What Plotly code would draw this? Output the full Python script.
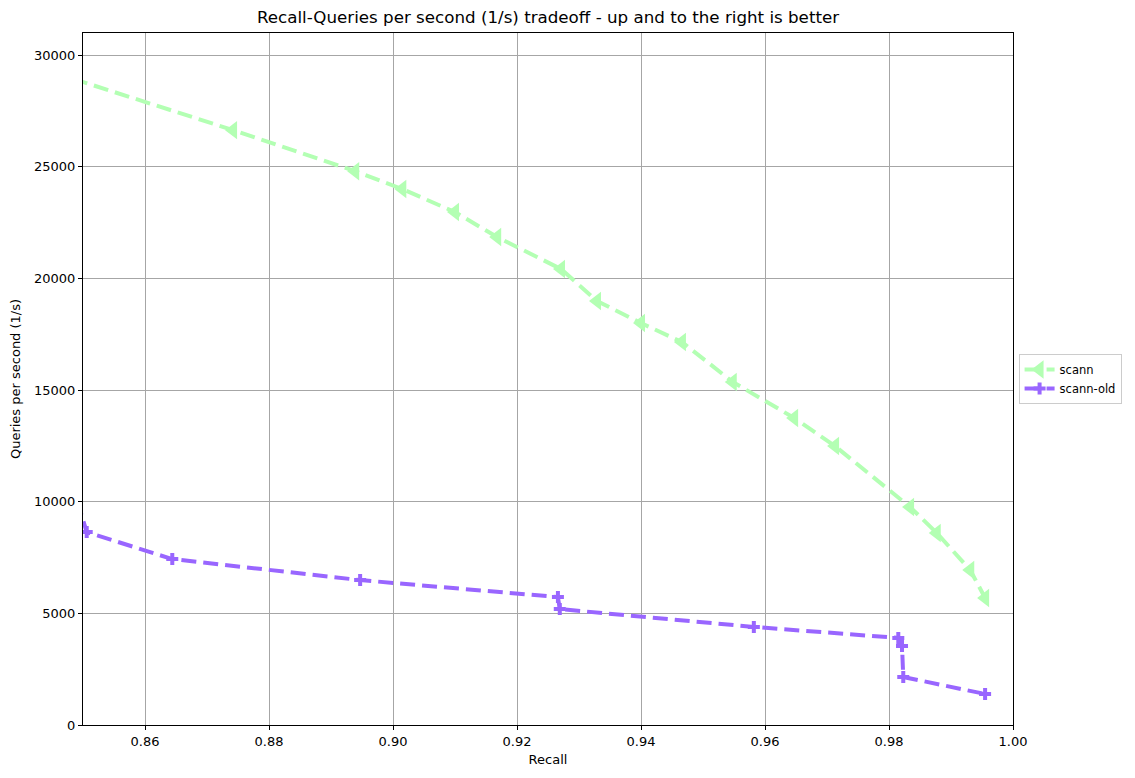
import plotly.graph_objects as go

# Data
scann_recall = [0.845, 0.8742, 0.8939, 0.9015, 0.9100, 0.9168, 0.9271, 0.9329, 0.9400,
                0.9466, 0.9548, 0.9647, 0.9713, 0.9834, 0.9877, 0.9931, 0.9955]
scann_qps = [29240, 26640, 24800, 24000, 22970, 21850, 20420, 18990, 18000,
             17150, 15360, 13750, 12490, 9760, 8600, 6940, 5690]

old_recall = [0.848, 0.8506, 0.8644, 0.8947, 0.9266, 0.9269, 0.9582, 0.9815, 0.9821, 0.9823, 0.9955]
old_qps = [11000, 8640, 7430, 6490, 5730, 5190, 4390, 3900, 3540, 2150, 1390]

x_ticks = [0.86, 0.88, 0.90, 0.92, 0.94, 0.96, 0.98, 1.00]
y_ticks = [0, 5000, 10000, 15000, 20000, 25000, 30000]

GREEN = "#b3ffb3"
PURPLE = "#9966ff"
FONT = "DejaVu Sans"

fig = go.Figure()
fig.add_trace(go.Scatter(
    x=scann_recall, y=scann_qps, name="scann", mode="lines+markers",
    line=dict(color=GREEN, width=4, dash="15px,7px"),
    marker=dict(symbol="triangle-left", size=16, color=GREEN),
))
fig.add_trace(go.Scatter(
    x=old_recall, y=old_qps, name="scann-old", mode="lines+markers",
    line=dict(color=PURPLE, width=4, dash="15px,7px"),
    marker=dict(symbol="cross", size=10, color=PURPLE),
))

axis_common = dict(
    showline=True, linecolor="black", linewidth=1, mirror=True,
    ticks="outside", ticklen=4, tickcolor="black",
    showgrid=True, gridcolor="#a6a6a6", gridwidth=1, zeroline=False,
    tickfont=dict(family=FONT, size=13, color="black"),
    automargin=False,
)

# the page adds an 8px body margin; margins compensate so the plot area lands
# at x 83..1013, y 33..725 in the window
fig.update_layout(
    width=1135, height=778,
    margin=dict(l=75, r=130, t=25, b=61),
    paper_bgcolor="white", plot_bgcolor="white",
    font=dict(family=FONT, color="black"),
    title=dict(text="Recall-Queries per second (1/s) tradeoff - up and to the right is better",
               x=540 / 1135, xanchor="center", y=1 - 9 / 778, yanchor="middle",
               font=dict(family=FONT, size=16.7, color="black")),
    xaxis=dict(range=[0.85, 1.0], tickvals=x_ticks,
               ticktext=[f"{v:.2f}" for v in x_ticks],
               title=dict(text="Recall", font=dict(family=FONT, size=13), standoff=7),
               **axis_common),
    yaxis=dict(range=[0, 30990], tickvals=y_ticks,
               ticktext=[str(v) for v in y_ticks],
               title=dict(text="Queries per second (1/s)", font=dict(family=FONT, size=13), standoff=13),
               **axis_common),
    legend=dict(x=1.006, y=0.5, xanchor="left", yanchor="middle",
                bordercolor="#cccccc", borderwidth=1, bgcolor="white",
                font=dict(family=FONT, size=11.5, color="black"),
                tracegroupgap=0),
    showlegend=True,
)

fig.write_html("out.html")
